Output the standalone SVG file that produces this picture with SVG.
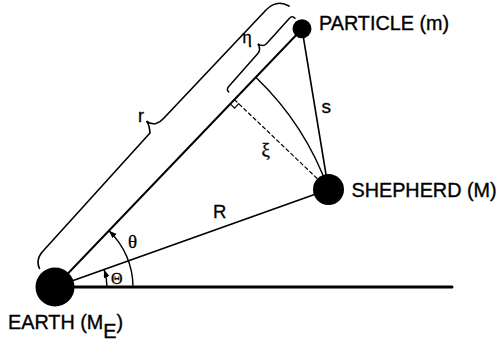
<svg xmlns="http://www.w3.org/2000/svg" width="498" height="347" viewBox="0 0 498 347">
<style>
.lbl{font-family:"Liberation Sans",Arial,sans-serif;font-size:19.8px;fill:#000;stroke:#000;stroke-width:0.35px}
.sym{font-family:"Liberation Sans",Arial,sans-serif;fill:#000;stroke:#000;stroke-width:0.3px}
.gk{font-family:"Liberation Serif","Times New Roman",serif;fill:#000;stroke:#000;stroke-width:0.3px}
.ln{stroke:#000;fill:none;stroke-linecap:round}
.body{fill:#000}
</style>
<defs>
<marker id="arr" markerUnits="userSpaceOnUse" markerWidth="10" markerHeight="8" refX="8" refY="3" orient="auto">
<path d="M0,0 L8,3 L0,6 Z" fill="#000"/>
</marker>
</defs>
<rect width="498" height="347" fill="#fff"/>
<g id="connectors">
<line class="ln" x1="55" y1="287" x2="452" y2="287" stroke-width="3"/>
<line class="ln" x1="55" y1="287" x2="302" y2="29" stroke-width="2"/>
<line class="ln" x1="55" y1="287" x2="328.5" y2="189.5" stroke-width="1.8"/>
<line class="ln" x1="302" y1="29" x2="328.5" y2="189.5" stroke-width="1.6"/>
</g>
<g id="annotations">
<path class="ln" stroke-width="1.6" d="M39.5 268.5 Q35 259 44 250 L150 133 Q149.5 125 146.5 121 Q150 124.5 156 123.5 Q160 122.5 164 118 L266 10 Q277 -1 289 6"/>
<g transform="translate(55 287) rotate(-46.25)">
<path class="ln" stroke-width="1.5" d="M261 -9.5 Q261 -13 265 -13.2 L309 -15 Q314 -15 316 -21.5 Q317 -15.5 322 -15.5 L356 -16.5 Q360.5 -16.5 360 -12.5"/>
</g>
<path class="ln" stroke-width="1.4" d="M328.5 189.5 A290.4 290.4 0 0 0 255.8 77.2"/>
<line class="ln" x1="234.4" y1="99.6" x2="325" y2="186" stroke-width="1.2" stroke-dasharray="3.5 3" stroke-linecap="butt"/>
<polyline class="ln" stroke-width="1.2" points="230.25,103.9 234.6,108.1 238.7,103.7"/>
<path class="ln" stroke-width="1.4" d="M133 287 A78 78 0 0 0 108.9 230.7" marker-end="url(#arr)"/>
<path class="ln" stroke-width="1.4" d="M107 287 A52 52 0 0 0 104 269.6" marker-end="url(#arr)"/>
<text class="sym" x="138" y="122" font-size="18">r</text>
<text class="gk" x="242" y="43" font-size="19">η</text>
<text class="sym" x="321.5" y="113" font-size="19">s</text>
<text class="gk" x="261.5" y="156" font-size="19">ξ</text>
<text class="sym" x="213" y="218.3" font-size="18.5">R</text>
<text class="gk" x="128" y="248" font-size="19">θ</text>
<text class="gk" x="111" y="283.5" font-size="16">Θ</text>
</g>
<g id="earth">
<circle class="body" cx="55" cy="287" r="19.5"/>
<text class="lbl" x="8" y="329.3">EARTH (M<tspan dy="9">E</tspan><tspan dy="-9">)</tspan></text>
</g>
<g id="particle">
<circle class="body" cx="302" cy="28.7" r="9.5"/>
<text class="lbl" x="319" y="30">PARTICLE (m)</text>
</g>
<g id="shepherd">
<circle class="body" cx="328.5" cy="189.5" r="15.5"/>
<text class="lbl" x="351.5" y="196.7">SHEPHERD (M)</text>
</g>
</svg>
